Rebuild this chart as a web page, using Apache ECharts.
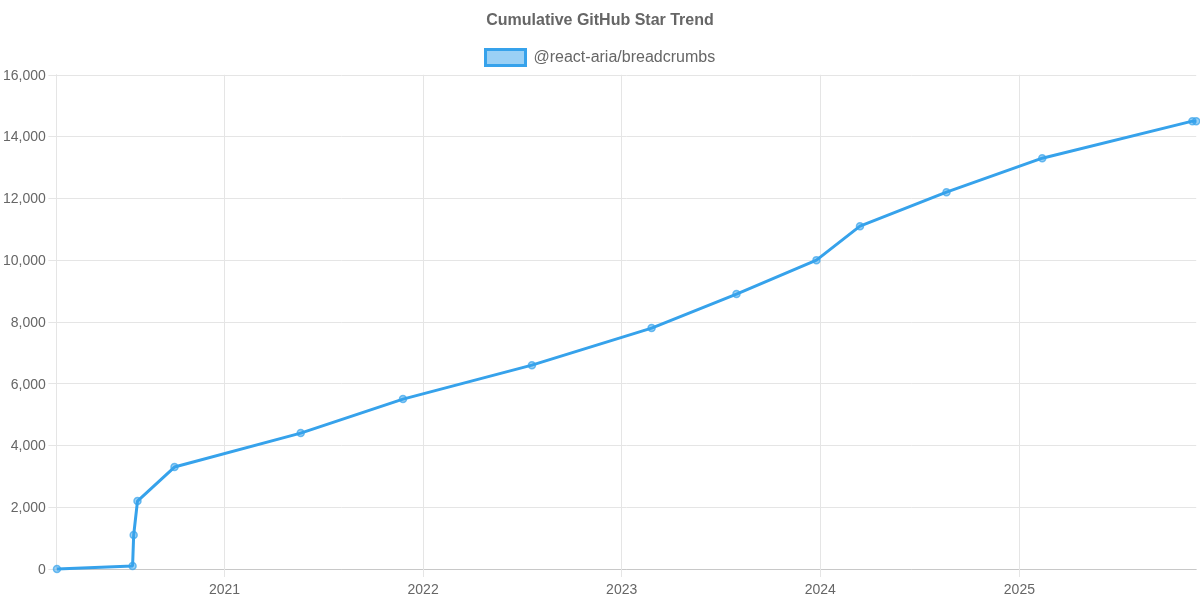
<!DOCTYPE html>
<html><head><meta charset="utf-8">
<style>html,body{margin:0;padding:0;background:#fff}#c{width:1200px;height:600px}</style>
<script src="https://cdn.jsdelivr.net/npm/echarts@6/dist/echarts.min.js"></script>
</head><body><div id="c"></div>
<script>
const titleText = 'Cumulative GitHub Star Trend';
const seriesName = '@react-aria/breadcrumbs';
const dates = ['2020-02-28','2020-07-16','2020-07-18','2020-07-25','2020-10-01','2021-05-21','2021-11-25','2022-07-20','2023-02-25','2023-07-31','2023-12-25','2024-03-14','2024-08-20','2025-02-12','2025-11-15','2025-11-22'];
const stars = [0,100,1100,2200,3300,4400,5500,6600,7800,8900,10000,11100,12200,13300,14500,14500];
const axisMin = '2020-02-27', axisMax = '2025-11-22';
const font = '"Liberation Sans", Arial, sans-serif';
const toTs = s => { const [y,m,d] = s.split('-').map(Number); return new Date(y,m-1,d).getTime(); };
const DAY = 86400000;
const chart = echarts.init(document.getElementById('c'), null, {renderer:'canvas'});
chart.setOption({
  animation:false,
  backgroundColor:'#fff',
  title:{text:titleText,left:'center',top:8,textStyle:{fontFamily:font,fontSize:16,fontWeight:'bold',color:'#666'}},
  legend:{top:43,left:479,itemWidth:40,itemHeight:16,itemGap:10,icon:'rect',
    textStyle:{fontFamily:font,fontSize:16,color:'#666',padding:[0,0,0,3]},
    itemStyle:{color:'rgba(54,162,235,0.5)',borderColor:'#36a2eb',borderWidth:3}},
  grid:{left:55.6,right:3.8,top:74.8,bottom:31,containLabel:false},
  xAxis:{type:'time',min:toTs(axisMin),max:toTs(axisMax),minInterval:365*DAY,maxInterval:366*DAY,
    axisLine:{show:true,onZero:false,lineStyle:{color:'#c8c8c8',width:1}},
    axisTick:{show:true,length:8,lineStyle:{color:'#e5e5e5'}},
    minorTick:{show:false},
    axisLabel:{show:true,showMinLabel:false,showMaxLabel:false,
      formatter:v=>String(new Date(v).getFullYear()),margin:14,hideOverlap:false,
      fontFamily:font,fontSize:14,color:'#666'},
    splitLine:{show:true,showMaxLine:false,lineStyle:{color:'#e5e5e5',width:1}}},
  yAxis:{type:'value',min:0,max:16000,interval:2000,
    axisLine:{show:true,lineStyle:{color:'#e5e5e5',width:1}},
    axisTick:{show:true,length:8,lineStyle:{color:'#e5e5e5'}},
    axisLabel:{margin:10.6,verticalAlign:'top',lineHeight:2,fontFamily:font,fontSize:14,color:'#666',formatter:v=>v.toLocaleString('en-US')},
    splitLine:{show:true,lineStyle:{color:'#e5e5e5',width:1}}},
  series:[{name:seriesName,type:'line',smooth:false,symbol:'circle',symbolSize:7,showSymbol:true,clip:false,
    data:dates.map((d,i)=>[toTs(d),stars[i]]),
    lineStyle:{color:'#36a2eb',width:3},
    itemStyle:{color:'rgba(54,162,235,0.5)',borderColor:'rgba(54,162,235,0.7)',borderWidth:1.5}}]
});
</script></body></html>
